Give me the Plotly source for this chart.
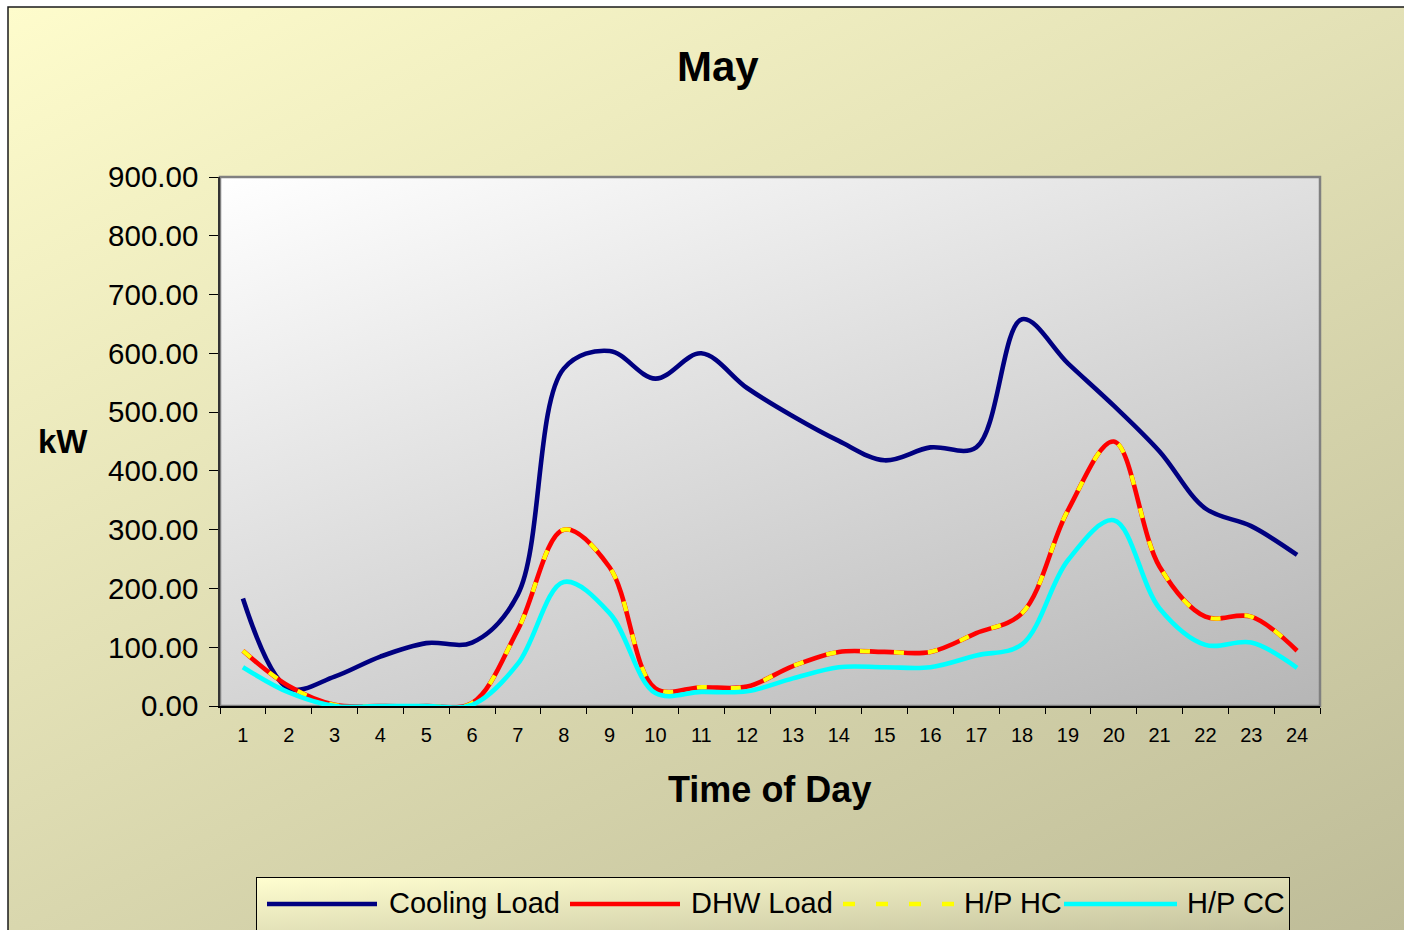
import base64
import plotly.graph_objects as go

# Hourly loads for May (kW)
hours = [str(h) for h in range(1, 25)]
cooling_load = [183, 30, 50, 84, 107, 108, 190, 574, 604, 557, 600, 541,
                493, 451, 418, 440, 440, 658, 583, 511, 433, 336, 306, 257]
dhw_load = [94, 34, 2, 0, 0, 5, 130, 300, 236, 30, 32, 33,
            68, 92, 92, 92, 124, 158, 333, 450, 237, 152, 152, 94]
hp_hc = [94, 34, 2, 0, 0, 5, 130, 300, 236, 30, 32, 33,
         68, 92, 92, 92, 124, 158, 333, 450, 237, 152, 152, 94]
hp_cc = [66, 23, 0, 0, 0, 2, 72, 211, 158, 22, 24, 25,
         47, 66, 66, 66, 86, 105, 248, 316, 166, 104, 108, 65]

W, H = 1404, 930
PL, PR, PT, PB = 220, 1320, 177, 706  # plot area edges in pixels
FONT = "Arial, Liberation Sans, sans-serif"


def px(x):
    return (x - PL) / (PR - PL)


def py(y):
    return (PB - y) / (PB - PT)


# Background: chart area, plot area and legend box with gradient fills
svg = f"""<svg xmlns="http://www.w3.org/2000/svg" width="{W}" height="{H}" viewBox="0 0 {W} {H}">
<defs>
<linearGradient id="bg" gradientUnits="userSpaceOnUse" x1="8" y1="7" x2="793" y2="1626">
<stop offset="0" stop-color="#FEFCCC"/><stop offset="1" stop-color="#AEAC8B"/></linearGradient>
<linearGradient id="pa" gradientUnits="userSpaceOnUse" x1="220" y1="177" x2="532" y2="1068">
<stop offset="0" stop-color="#FFFFFF"/><stop offset="1" stop-color="#AFAFAF"/></linearGradient>
<linearGradient id="lg" x1="0" y1="0" x2="1" y2="1">
<stop offset="0" stop-color="#FFFED0"/><stop offset="1" stop-color="#C2C09C"/></linearGradient>
</defs>
<rect x="0" y="0" width="{W}" height="{H}" fill="#FFFFFF"/>
<rect x="8" y="7" width="1420" height="950" fill="url(#bg)" stroke="#1a1a1a" stroke-width="1.5"/>
<rect x="{PL}" y="{PT}" width="{PR-PL}" height="{PB-PT}" fill="url(#pa)" stroke="#808080" stroke-width="2.5"/>
<rect x="256.5" y="877.5" width="1033" height="60" fill="url(#lg)" stroke="#000000" stroke-width="1"/>
</svg>"""
bg_uri = "data:image/svg+xml;base64," + base64.b64encode(svg.encode()).decode()

fig = go.Figure()

series = [
    ("Cooling Load", cooling_load, dict(color="#000080", width=4.6)),
    ("DHW Load", dhw_load, dict(color="#FF0000", width=4.6)),
    ("H/P HC", hp_hc, dict(color="#FFFF00", width=4.2, dash="10px,24px")),
    ("H/P CC", hp_cc, dict(color="#00FFFF", width=4.6)),
]
for name, vals, line in series:
    fig.add_trace(go.Scatter(
        x=hours, y=vals, name=name, mode="lines",
        line=dict(shape="spline", smoothing=1, **line),
        showlegend=False, hoverinfo="skip",
    ))

# Legend drawn as samples plus labels along the bottom box
legend_items = [
    ("Cooling Load", 267, 377, 387, dict(color="#000080", width=4.6)),
    ("DHW Load", 570, 680, 689, dict(color="#FF0000", width=4.6)),
    ("H/P HC", 843, 955, 962, dict(color="#FFFF00", width=4.6, dash="12px,21px")),
    ("H/P CC", 1064, 1177, 1185, dict(color="#00FFFF", width=4.6)),
]
shapes = []
annotations = []
for label, x0, x1, tx, line in legend_items:
    shapes.append(dict(type="line", xref="paper", yref="paper",
                       x0=px(x0), x1=px(x1), y0=py(904), y1=py(904), line=line))
    annotations.append(dict(text=label, xref="paper", yref="paper",
                            x=px(tx), y=py(903), xanchor="left", yanchor="middle",
                            showarrow=False, font=dict(family=FONT, size=29, color="#000000")))

annotations += [
    dict(text="<b>May</b>", xref="paper", yref="paper", x=px(718), y=py(66),
         xanchor="center", yanchor="middle", showarrow=False,
         font=dict(family=FONT, size=42, color="#000000")),
    dict(text="<b>kW</b>", xref="paper", yref="paper", x=px(63), y=py(441),
         xanchor="center", yanchor="middle", showarrow=False,
         font=dict(family=FONT, size=33, color="#000000")),
    dict(text="<b>Time of Day</b>", xref="paper", yref="paper", x=px(769), y=py(789),
         xanchor="center", yanchor="middle", showarrow=False,
         font=dict(family=FONT, size=36, color="#000000")),
]

fig.update_layout(
    width=W, height=H, autosize=False,
    margin=dict(l=PL, r=W - PR, t=PT, b=H - PB, pad=0),
    paper_bgcolor="#FFFFFF",
    plot_bgcolor="rgba(0,0,0,0)",
    showlegend=False,
    images=[dict(source=bg_uri, xref="paper", yref="paper",
                 x=px(0), y=py(0), sizex=W / (PR - PL), sizey=H / (PB - PT),
                 xanchor="left", yanchor="top", sizing="stretch", layer="below")],
    shapes=shapes,
    annotations=annotations,
    xaxis=dict(
        type="category", range=[-0.5, 23.5], tickson="boundaries",
        ticks="outside", ticklen=6, tickwidth=1.2, tickcolor="#000000",
        showline=True, linecolor="#000000", linewidth=1.5,
        showgrid=False, zeroline=False, ticklabelstandoff=10,
        tickfont=dict(family=FONT, size=20, color="#000000"),
    ),
    yaxis=dict(
        range=[0, 900], dtick=100, tickformat=".2f",
        ticks="outside", ticklen=9, tickwidth=1.2, tickcolor="#000000",
        showline=True, linecolor="#333333", linewidth=1.5,
        showgrid=False, zeroline=False, ticklabelstandoff=5,
        tickfont=dict(family=FONT, size=29.5, color="#000000"),
    ),
    # companion axes give the tick marks their inner half, crossing the axis lines
    xaxis2=dict(
        overlaying="x", anchor="y", range=[-0.5, 23.5],
        tickvals=[i - 0.5 for i in range(25)], ticks="inside", ticklen=4,
        tickwidth=1.2, tickcolor="#000000", showticklabels=False,
        showgrid=False, zeroline=False, showline=False,
    ),
    yaxis2=dict(
        overlaying="y", anchor="x", range=[0, 900], dtick=100,
        ticks="inside", ticklen=4, tickwidth=1.2, tickcolor="#000000",
        showticklabels=False, showgrid=False, zeroline=False, showline=False,
    ),
)

fig.write_html("out.html")
